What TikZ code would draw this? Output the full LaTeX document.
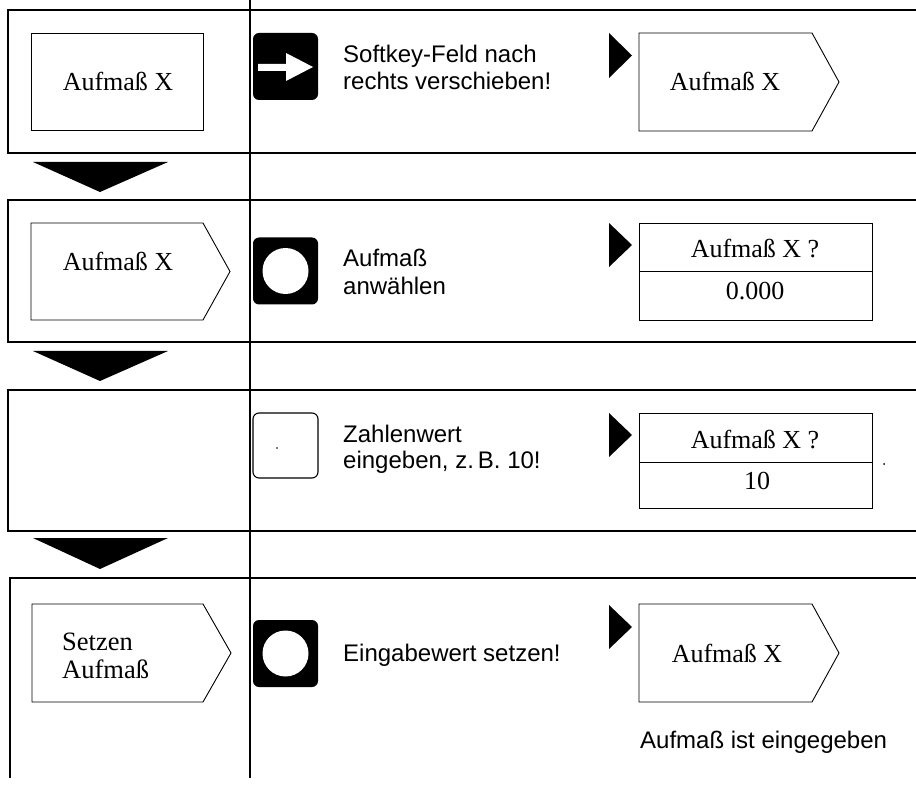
\documentclass[tikz,border=0pt]{standalone}
\usepackage{fontspec}
\setmainfont{Liberation Serif}
\setsansfont{Liberation Sans}
\tikzset{
  frameline/.style={line width=1.1pt},
  boxline/.style={line width=0.9pt},
  keyblack/.style={fill=black, rounded corners=6pt, minimum width=65pt, minimum height=67pt, inner sep=0pt},
  keywhite/.style={draw=black, line width=1.1pt, fill=white, rounded corners=6pt, minimum width=65pt, minimum height=65pt, inner sep=0pt},
  serif/.style={font=\fontsize{26}{29}\selectfont, anchor=base, inner sep=0pt},
  serifl/.style={font=\fontsize{26.5}{29}\selectfont, anchor=base west, inner sep=0pt},
  sans/.style={font=\sffamily\fontsize{24}{27}\selectfont, anchor=base west, inner sep=0pt},
  pointer/.style={fill=black},
}
\begin{document}
\begin{tikzpicture}[x=1pt,y=-1pt]
\useasboundingbox (0,0) rectangle (916,786);

% ---- table frame ----
\draw[frameline] (250,0) -- (250,778);
\draw[frameline] (916,10) -- (8,10) -- (8,153) -- (916,153);
\draw[frameline] (916,200) -- (8,200) -- (8,342) -- (916,342);
\draw[frameline] (916,390) -- (8,390) -- (8,531) -- (916,531);
\draw[frameline] (916,578) -- (10,578) -- (10,778);

% ---- step arrows between rows ----
\fill[pointer] (33,162) -- (168,162) -- (100,192) -- cycle;
\fill[pointer] (33,351) -- (168,351) -- (100,381) -- cycle;
\fill[pointer] (33,538) -- (168,538) -- (100,569) -- cycle;

% ---- row 1 ----
\draw[boxline] (31,33) rectangle (203,130);
\node[serif] (r1l) at (118,91) {Aufmaß X};
\node[keyblack] (k1) at (285.5,66.5) {};
\fill[white] (258,64) -- (286,64) -- (286,53) -- (313,67) -- (286,81) -- (286,71) -- (258,71) -- cycle;
\node[sans] (t1a) at (343,63) {Softkey-Feld nach};
\node[sans] (t1b) at (343,90) {rechts verschieben!};
\fill[pointer] (609,33) -- (632,55.5) -- (609,78) -- cycle;
\draw[boxline] (639,33) -- (812,33) -- (839,82) -- (812,131) -- (639,131) -- cycle;
\node[serif] (r1r) at (725,91) {Aufmaß X};

% ---- row 2 ----
\draw[boxline] (31,223) -- (203,223) -- (230,271.5) -- (203,320) -- (31,320) -- cycle;
\node[serif] (r2l) at (118,271) {Aufmaß X};
\node[keyblack] (k2) at (285.5,271) {};
\fill[white] (k2.center) circle (23);
\node[sans] (t2a) at (343,267) {Aufmaß};
\node[sans] (t2b) at (343,295) {anwählen};
\fill[pointer] (609,223) -- (632,245) -- (609,267) -- cycle;
\draw[boxline] (639,223) rectangle (872,320);
\draw[boxline] (639,271) -- (872,271);
\node[serif] (r2q) at (755,258) {Aufmaß X ?};
\node[serif] (r2v) at (755,300) {0.000};

% ---- row 3 ----
\node[keywhite] (k3) at (285.5,445.5) {};
\fill (277,448) circle (0.8);
\node[sans] (t3a) at (343,442) {Zahlenwert};
\node[sans] (t3b) at (343,468) {eingeben, z.\,B. 10!};
\fill[pointer] (609,413) -- (632,435) -- (609,457) -- cycle;
\draw[boxline] (639,413) rectangle (872,508);
\draw[boxline] (639,462) -- (872,462);
\node[serif] (r3q) at (755,448) {Aufmaß X ?};
\node[serif] (r3v) at (757,489) {10};
\fill (884,464) circle (1);

% ---- row 4 ----
\draw[boxline] (32,604) -- (203,604) -- (231,653) -- (203,702) -- (32,702) -- cycle;
\node[serifl] (r4a) at (62,650) {Setzen};
\node[serifl] (r4b) at (62,678) {Aufmaß};
\node[keyblack] (k4) at (285.5,653.5) {};
\fill[white] (k4.center) circle (23);
\node[sans] (t4) at (343,661) {Eingabewert setzen!};
\fill[pointer] (609,605) -- (632,627) -- (609,649) -- cycle;
\draw[boxline] (639,604) -- (812,604) -- (839,653) -- (812,702) -- (639,702) -- cycle;
\node[serif] (r4r) at (727,662) {Aufmaß X};
\node[sans] (t4n) at (640,748) {Aufmaß ist eingegeben};
\end{tikzpicture}
\end{document}
